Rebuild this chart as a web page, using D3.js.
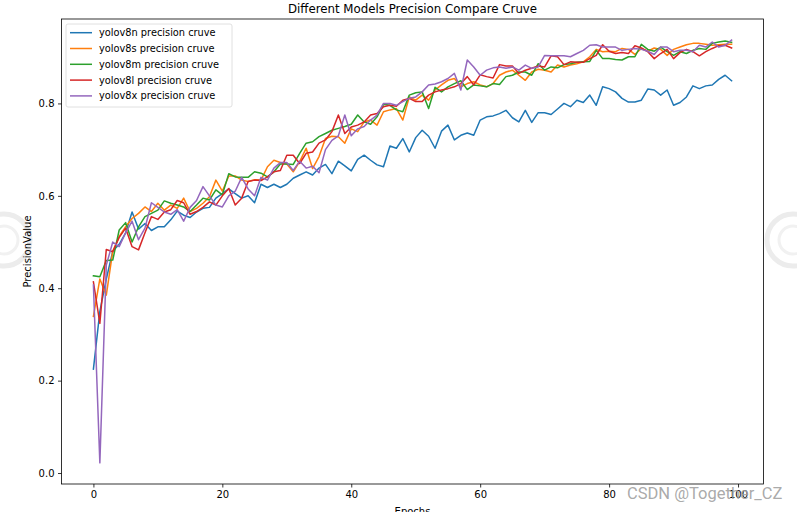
<!DOCTYPE html>
<html>
<head>
<meta charset="utf-8">
<script src="https://cdn.jsdelivr.net/npm/d3@7"></script>
<style>
  html, body { margin: 0; padding: 0; background: #fff; }
  svg { display: block; }
  text { font-family: "DejaVu Sans", sans-serif; }
</style>
</head>
<body>
<svg id="chart" width="797" height="512"></svg>
<script>
const title = "Different Models Precision Compare Cruve";
const xLabel = "Epochs";
const yLabel = "PrecisionValue";
const seriesNames = ["yolov8n precision cruve", "yolov8s precision cruve", "yolov8m precision cruve", "yolov8l precision cruve", "yolov8x precision cruve"];
const seriesColors = ["#1f77b4", "#ff7f0e", "#2ca02c", "#d62728", "#9467bd"];
const xTicks = [0, 20, 40, 60, 80, 100];
const yTicks = [0.0, 0.2, 0.4, 0.6, 0.8];

const yolov8n = [
  0.225, 0.35, 0.42, 0.48, 0.495, 0.52, 0.565, 0.528, 0.540, 0.525,
  0.533, 0.533, 0.548, 0.567, 0.558, 0.553, 0.565, 0.573, 0.575, 0.595,
  0.605, 0.615, 0.605, 0.595, 0.600, 0.585, 0.625, 0.618, 0.625, 0.618,
  0.625, 0.638, 0.645, 0.652, 0.645, 0.660, 0.668, 0.648, 0.675, 0.665,
  0.654, 0.679, 0.688, 0.677, 0.667, 0.663, 0.708, 0.703, 0.724, 0.695,
  0.726, 0.742, 0.729, 0.703, 0.740, 0.753, 0.721, 0.731, 0.736, 0.731,
  0.764, 0.771, 0.773, 0.778, 0.785, 0.769, 0.760, 0.785, 0.759, 0.780,
  0.780, 0.776, 0.788, 0.800, 0.793, 0.807, 0.802, 0.818, 0.796, 0.836,
  0.832, 0.825, 0.811, 0.803, 0.803, 0.807, 0.831, 0.829, 0.818, 0.829,
  0.796, 0.802, 0.814, 0.838, 0.832, 0.838, 0.840, 0.852, 0.861, 0.849
];
const yolov8s = [
  0.339, 0.42, 0.385, 0.48, 0.512, 0.533, 0.551, 0.562, 0.576, 0.566,
  0.584, 0.569, 0.580, 0.573, 0.595, 0.566, 0.573, 0.584, 0.598, 0.634,
  0.610, 0.643, 0.643, 0.634, 0.631, 0.635, 0.634, 0.663, 0.677, 0.672,
  0.669, 0.652, 0.674, 0.703, 0.659, 0.685, 0.724, 0.729, 0.728, 0.714,
  0.745, 0.739, 0.760, 0.764, 0.753, 0.782, 0.786, 0.789, 0.764, 0.814,
  0.807, 0.818, 0.807, 0.829, 0.840, 0.850, 0.854, 0.836, 0.843, 0.847,
  0.840, 0.836, 0.843, 0.861, 0.868, 0.872, 0.861, 0.850, 0.868, 0.874,
  0.872, 0.868, 0.883, 0.879, 0.883, 0.886, 0.890, 0.901, 0.917, 0.912,
  0.913, 0.912, 0.919, 0.917, 0.906, 0.919, 0.913, 0.920, 0.917, 0.904,
  0.917, 0.922, 0.927, 0.930, 0.930, 0.928, 0.926, 0.927, 0.928, 0.928
];
const yolov8m = [
  0.427, 0.425, 0.460, 0.461, 0.526, 0.542, 0.500, 0.533, 0.555, 0.562,
  0.569, 0.589, 0.584, 0.580, 0.576, 0.566, 0.580, 0.595, 0.591, 0.613,
  0.602, 0.648, 0.641, 0.640, 0.640, 0.652, 0.649, 0.641, 0.652, 0.669,
  0.669, 0.668, 0.692, 0.714, 0.717, 0.728, 0.735, 0.742, 0.746, 0.750,
  0.755, 0.775, 0.760, 0.755, 0.771, 0.798, 0.796, 0.786, 0.782, 0.818,
  0.823, 0.825, 0.789, 0.835, 0.825, 0.836, 0.843, 0.849, 0.830, 0.840,
  0.838, 0.836, 0.843, 0.841, 0.858, 0.861, 0.868, 0.868, 0.861, 0.886,
  0.872, 0.879, 0.877, 0.884, 0.886, 0.889, 0.890, 0.891, 0.915, 0.897,
  0.897, 0.895, 0.894, 0.901, 0.901, 0.928, 0.917, 0.913, 0.922, 0.912,
  0.904, 0.912, 0.908, 0.915, 0.919, 0.917, 0.930, 0.933, 0.935, 0.932
];
const yolov8l = [
  0.414, 0.324, 0.484, 0.479, 0.510, 0.530, 0.490, 0.483, 0.520, 0.555,
  0.549, 0.565, 0.570, 0.590, 0.585, 0.560, 0.566, 0.575, 0.587, 0.580,
  0.600, 0.616, 0.580, 0.595, 0.631, 0.634, 0.633, 0.641, 0.652, 0.655,
  0.688, 0.688, 0.670, 0.692, 0.695, 0.714, 0.721, 0.739, 0.775, 0.735,
  0.749, 0.753, 0.760, 0.775, 0.778, 0.793, 0.796, 0.794, 0.807, 0.811,
  0.804, 0.804, 0.818, 0.825, 0.829, 0.832, 0.836, 0.843, 0.858, 0.840,
  0.862, 0.858, 0.855, 0.884, 0.881, 0.881, 0.865, 0.872, 0.876, 0.881,
  0.879, 0.903, 0.901, 0.884, 0.890, 0.889, 0.889, 0.897, 0.904, 0.927,
  0.913, 0.908, 0.910, 0.908, 0.925, 0.920, 0.912, 0.897, 0.908, 0.917,
  0.897, 0.910, 0.917, 0.912, 0.903, 0.912, 0.919, 0.925, 0.926, 0.920
];
const yolov8x = [
  0.407, 0.022, 0.450, 0.500, 0.490, 0.520, 0.545, 0.505, 0.530, 0.585,
  0.575, 0.565, 0.560, 0.570, 0.545, 0.575, 0.590, 0.620, 0.600, 0.580,
  0.576, 0.600, 0.610, 0.640, 0.615, 0.600, 0.640, 0.634, 0.660, 0.672,
  0.672, 0.655, 0.675, 0.660, 0.664, 0.650, 0.700, 0.720, 0.730, 0.775,
  0.730, 0.745, 0.750, 0.764, 0.775, 0.800, 0.800, 0.796, 0.804, 0.811,
  0.814, 0.825, 0.840, 0.842, 0.847, 0.854, 0.865, 0.829, 0.894, 0.879,
  0.861, 0.872, 0.877, 0.879, 0.876, 0.879, 0.872, 0.883, 0.876, 0.879,
  0.904, 0.903, 0.903, 0.903, 0.901, 0.908, 0.915, 0.926, 0.927, 0.922,
  0.922, 0.922, 0.915, 0.917, 0.919, 0.917, 0.913, 0.906, 0.922, 0.922,
  0.912, 0.915, 0.915, 0.912, 0.926, 0.922, 0.933, 0.922, 0.926, 0.937
];
const seriesValues = [yolov8n, yolov8s, yolov8m, yolov8l, yolov8x];

const svg = d3.select("#chart");
const plot = { left: 61.5, right: 763.5, top: 19, bottom: 484 };

// faint watermark logos on the edges
[[4, 240], [793, 240]].forEach(([cx, cy]) => {
  svg.append("circle").attr("cx", cx).attr("cy", cy).attr("r", 26)
    .attr("fill", "none").attr("stroke", "#ececec").attr("stroke-width", 5);
  svg.append("circle").attr("cx", cx).attr("cy", cy).attr("r", 14)
    .attr("fill", "none").attr("stroke", "#f1f1f1").attr("stroke-width", 3);
});

const n = yolov8n.length;
const xMin = 0, xMax = n - 1;
const xPad = (xMax - xMin) * 0.05;
const allVals = seriesValues.flat();
const yMinV = d3.min(allVals), yMaxV = d3.max(allVals);
const yPad = (yMaxV - yMinV) * 0.05;

const x = d3.scaleLinear().domain([xMin - xPad, xMax + xPad]).range([plot.left, plot.right]);
const y = d3.scaleLinear().domain([yMinV - yPad, yMaxV + yPad]).range([plot.bottom, plot.top]);

const g = svg.append("g");

// lines
const line = d3.line().x((d, i) => x(i)).y(d => y(d));
seriesValues.forEach((vals, k) => {
  g.append("path").datum(vals)
    .attr("d", line)
    .attr("fill", "none")
    .attr("stroke", seriesColors[k])
    .attr("stroke-width", 1.5)
    .attr("stroke-linejoin", "round")
    .attr("stroke-linecap", "square");
});

// axes
const xAxis = d3.axisBottom(x).tickValues(xTicks).tickFormat(d3.format("d")).tickSize(3.5).tickPadding(3.5);
const yAxis = d3.axisLeft(y).tickValues(yTicks).tickFormat(d3.format(".1f")).tickSize(3.5).tickPadding(3.5);

const gx = svg.append("g").attr("transform", `translate(0,${plot.bottom})`).call(xAxis);
const gy = svg.append("g").attr("transform", `translate(${plot.left},0)`).call(yAxis);
[gx, gy].forEach(a => {
  a.select(".domain").remove();
  a.selectAll(".tick line").attr("stroke", "#000").attr("stroke-width", 0.8);
  a.selectAll(".tick text").attr("fill", "#000").style("font-size", "10px").style("font-family", "DejaVu Sans");
});

// frame
svg.append("rect")
  .attr("x", plot.left).attr("y", plot.top)
  .attr("width", plot.right - plot.left).attr("height", plot.bottom - plot.top)
  .attr("fill", "none").attr("stroke", "#000").attr("stroke-width", 0.8);

// title
svg.append("text")
  .attr("x", (plot.left + plot.right) / 2).attr("y", 13)
  .attr("text-anchor", "middle")
  .style("font-size", "11.8px")
  .text(title);

// axis labels
svg.append("text")
  .attr("x", (plot.left + plot.right) / 2).attr("y", 515)
  .attr("text-anchor", "middle")
  .style("font-size", "10px")
  .text(xLabel);
svg.append("text")
  .attr("transform", `translate(31,${(plot.top + plot.bottom) / 2}) rotate(-90)`)
  .attr("text-anchor", "middle")
  .style("font-size", "10px")
  .text(yLabel);

// legend
const lg = svg.append("g");
lg.append("rect")
  .attr("x", 66).attr("y", 24).attr("width", 166).attr("height", 83)
  .attr("rx", 2).attr("fill", "#fff").attr("fill-opacity", 0.8)
  .attr("stroke", "#d8d8d8").attr("stroke-width", 0.8);
seriesNames.forEach((name, k) => {
  const cy = 32.7 + k * 15.8;
  lg.append("line").attr("x1", 70).attr("x2", 92).attr("y1", cy).attr("y2", cy)
    .attr("stroke", seriesColors[k]).attr("stroke-width", 1.5);
  lg.append("text").attr("x", 99).attr("y", cy).attr("dy", "0.35em")
    .style("font-size", "9.8px").attr("fill", "#000").text(name);
});

// watermark
svg.append("text")
  .attr("x", 627).attr("y", 499)
  .style("font-size", "16.5px").style("font-family", "Roboto, 'DejaVu Sans', sans-serif")
  .attr("fill", "#a0a0a0").attr("fill-opacity", 0.9)
  .text("CSDN @Together_CZ");
</script>
</body>
</html>
